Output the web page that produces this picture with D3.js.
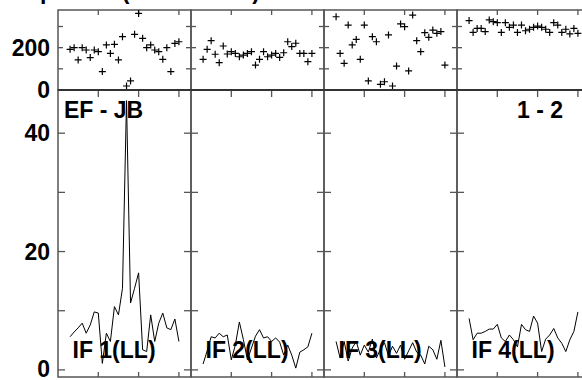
<!DOCTYPE html>
<html>
<head>
<meta charset="utf-8">
<script src="https://cdn.jsdelivr.net/npm/d3@7"></script>
<style>
  html, body { margin: 0; padding: 0; background: #fff; }
  svg { display: block; }
  text { font-family: "Liberation Sans", Arial, Helvetica, sans-serif; font-weight: bold; fill: #000; }
</style>
</head>
<body>
<svg id="chart" width="582" height="380"></svg>
<script>
// ---- data ----
const panelLabels = ["IF 1(LL)", "IF 2(LL)", "IF 3(LL)", "IF 4(LL)"];
const baselineLabel = "EF - JB";
const pageLabel = "1 - 2";
const titleText = "Amplitude (normalised)";
const channels = [3,4,5,6,7,8,9,10,11,12,13,14,15,16,17,18,19,20,21,22,23,24,25,26,27,28,29,30];

const phase1 = [192,200,142,200,189,153,189,181,87,213,173,216,142,252,19,43,263,362,244,200,213,189,181,145,200,87,220,228];
const phase2 = [145,192,233,169,129,208,170,181,173,157,165,173,181,118,145,181,157,165,173,154,176,228,205,221,173,173,134,173];
const phase3 = [346,173,126,307,213,239,145,307,43,252,228,27,39,260,19,113,312,299,90,354,233,181,271,249,283,268,276,118];
const phase4 = [328,272,291,291,276,331,323,318,272,318,296,307,272,307,280,287,296,302,296,287,272,318,307,272,287,265,291,268];

const amp1 = [5.6,6.4,7.1,7.9,6.2,7.6,9.8,9.6,1.1,6.2,4.8,10.7,9.3,13.8,45.5,11.3,13.8,16.4,3.4,3.1,9.3,4.8,7.9,9.6,7.1,6.8,8.6,4.8];
const amp2 = [1.0,3.2,5.6,5.4,6.2,5.6,5.9,1.7,4.2,8.1,5.1,1.7,3.7,5.7,6.8,5.4,5.6,4.8,5.4,4.7,2.5,4.2,2.5,0.3,3.0,3.4,3.9,6.2];
const amp3 = [4.8,2.0,4.8,1.5,3.7,4.8,2.5,4.2,3.0,5.2,2.0,3.5,4.6,2.4,4.0,2.8,4.2,1.8,3.2,4.6,3.0,2.5,1.0,4.0,3.4,1.8,5.1,1.6,5.0,0.5];
const amp4 = [8.7,5.1,6.2,6.2,6.5,6.9,6.9,7.7,5.4,4.8,5.9,5.1,3.9,7.7,6.8,6.5,9.1,7.9,3.1,5.2,5.9,7.0,5.4,4.5,3.1,5.1,6.5,9.8];

const phaseTicks = [0,100,200,300];
const phaseTickLabels = [0,200];
const ampTicks = [0,10,20,30,40];
const ampTickLabels = [0,20,40];
const chanTicks = [10,20,30];

// ---- build ----
const phases = [phase1, phase2, phase3, phase4];
// IF 3 amplitude: first 26 channels then the final two channels
const amps = [amp1, amp2, amp3.slice(0, 26).concat(amp3.slice(28)), amp4];

const svg = d3.select("#chart");
const panelW = 133, x0 = 58;
const topY0 = 10, topY1 = 90, botY1 = 377;
const yPh = d3.scaleLinear().domain([0, 378]).range([topY1, topY0]);
const yAm = d3.scaleLinear().domain([-1.2, 47.3]).range([botY1, topY1]);
const axisCol = "#555";

// title (clipped at top, as in the reference)
svg.append("text").attr("x", 3).attr("y", -1).attr("font-size", 23).text(titleText);

for (let p = 0; p < 4; p++) {
  const left = x0 + p * panelW;
  const x = d3.scaleLinear().domain([0, 33]).range([left, left + panelW]);
  const g = svg.append("g");

  g.append("rect").attr("x", left).attr("y", topY0).attr("width", panelW).attr("height", topY1 - topY0)
    .attr("fill", "none").attr("stroke", axisCol).attr("stroke-width", 1.5);
  g.append("rect").attr("x", left).attr("y", topY1).attr("width", panelW).attr("height", botY1 - topY1)
    .attr("fill", "none").attr("stroke", axisCol).attr("stroke-width", 1.5);

  phaseTicks.forEach(t => {
    g.append("line").attr("x1", left).attr("x2", left + 5).attr("y1", yPh(t)).attr("y2", yPh(t)).attr("stroke", axisCol).attr("stroke-width", 1.3);
    g.append("line").attr("x1", left + panelW - 5).attr("x2", left + panelW).attr("y1", yPh(t)).attr("y2", yPh(t)).attr("stroke", axisCol).attr("stroke-width", 1.3);
  });
  ampTicks.forEach(t => {
    g.append("line").attr("x1", left).attr("x2", left + 7).attr("y1", yAm(t)).attr("y2", yAm(t)).attr("stroke", axisCol).attr("stroke-width", 1.3);
    g.append("line").attr("x1", left + panelW - 7).attr("x2", left + panelW).attr("y1", yAm(t)).attr("y2", yAm(t)).attr("stroke", axisCol).attr("stroke-width", 1.3);
  });
  chanTicks.forEach(t => {
    g.append("line").attr("x1", x(t)).attr("x2", x(t)).attr("y1", topY0).attr("y2", topY0 + 5).attr("stroke", axisCol).attr("stroke-width", 1.3);
    g.append("line").attr("x1", x(t)).attr("x2", x(t)).attr("y1", topY1).attr("y2", topY1 + 7).attr("stroke", axisCol).attr("stroke-width", 1.3);
    g.append("line").attr("x1", x(t)).attr("x2", x(t)).attr("y1", botY1 - 5).attr("y2", botY1).attr("stroke", axisCol).attr("stroke-width", 1.3);
  });

  const ph = phases[p];
  g.selectAll("path.pt").data(channels.map((c, i) => [c, ph[i]])).enter().append("path")
    .attr("d", d => { const cx = x(d[0]), cy = yPh(d[1]); return `M${cx-3.5},${cy}H${cx+3.5}M${cx},${cy-3.5}V${cy+3.5}`; })
    .attr("stroke", "#000").attr("stroke-width", 1.2).attr("fill", "none");

  const am = amps[p];
  const line = d3.line().x((d, i) => x(channels[i])).y(d => yAm(d));
  g.append("path").attr("d", line(am)).attr("fill", "none").attr("stroke", "#000").attr("stroke-width", 1);

  g.append("text").attr("x", left + 14.5).attr("y", 358).attr("font-size", 23).text(panelLabels[p]);
}

svg.append("line").attr("x1", x0).attr("x2", 582).attr("y1", topY1).attr("y2", topY1).attr("stroke", "#333").attr("stroke-width", 2);

phaseTickLabels.forEach(t => {
  svg.append("text").attr("x", 50).attr("y", yPh(t) + 8.3).attr("text-anchor", "end").attr("font-size", 23).text(t);
});
ampTickLabels.forEach(t => {
  svg.append("text").attr("x", 50).attr("y", Math.min(yAm(t) + 8.3, 377)).attr("text-anchor", "end").attr("font-size", 23).text(t);
});

svg.append("text").attr("x", 64).attr("y", 118).attr("font-size", 23).text(baselineLabel);
svg.append("text").attr("x", 563).attr("y", 118).attr("text-anchor", "end").attr("font-size", 23).text(pageLabel);
</script>
</body>
</html>
